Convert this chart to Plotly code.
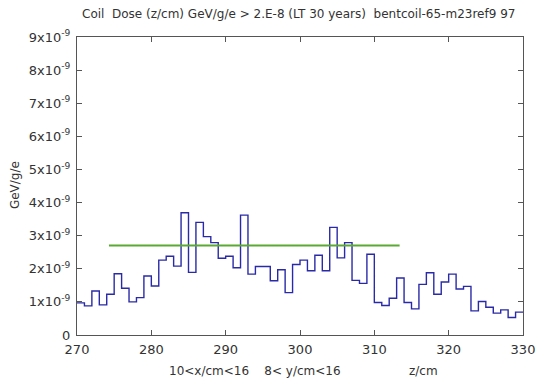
import plotly.graph_objects as go

# Dose per 1 cm z-bin, in units of 1e-9 GeV/g/e
z_edges = list(range(270, 331))
dose = [0.97, 0.88, 1.33, 0.91, 1.23, 1.85, 1.41, 1.00, 1.13, 1.78,
        1.48, 2.26, 2.38, 2.08, 3.69, 1.89, 3.40, 2.97, 2.79, 2.32,
        2.38, 2.03, 3.62, 1.84, 2.07, 2.07, 1.64, 1.97, 1.28, 2.13,
        2.26, 1.94, 2.41, 1.94, 3.25, 2.33, 2.79, 1.65, 1.56, 2.44,
        0.98, 0.89, 1.11, 1.72, 0.98, 0.79, 1.53, 1.88, 1.23, 1.60,
        1.84, 1.39, 1.47, 0.73, 1.01, 0.84, 0.66, 0.76, 0.53, 0.69]

# Average level and the z range it covers
avg_z = [274.3, 313.4]
avg_level = 2.70

y_tick_vals = [0, 1, 2, 3, 4, 5, 6, 7, 8, 9]
y_tick_text = ["0"] + [f"{v}x10<sup>-9</sup>" for v in y_tick_vals[1:]]
x_tick_vals = [270, 280, 290, 300, 310, 320, 330]

scale = 1e-9
hist_y = [v * scale for v in dose] + [dose[-1] * scale]

W, H = 547, 378
plot_l, plot_r, plot_t, plot_b = 77, 531, 37, 335


def to_paper(px, py):
    return (px - plot_l) / (plot_r - plot_l), (plot_b - py) / (plot_b - plot_t)


fig = go.Figure()
fig.add_trace(go.Scatter(
    x=z_edges, y=hist_y, mode="lines", line_shape="hv",
    line=dict(color="#2a2aa8", width=1.4), showlegend=False,
))
fig.add_trace(go.Scatter(
    x=avg_z, y=[avg_level * scale] * 2, mode="lines",
    line=dict(color="#5aaa32", width=2), showlegend=False,
))

font = dict(family="DejaVu Sans", size=12, color="#333333")
tick_font = dict(family="DejaVu Sans", size=13, color="#333333")
axis_common = dict(
    showgrid=False, zeroline=False, showline=True, mirror="allticks",
    linecolor="#555555", linewidth=1, ticks="inside", ticklen=5,
    tickcolor="#555555", tickfont=tick_font,
)
fig.update_xaxes(range=[270, 330], tickvals=x_tick_vals, ticklabelstandoff=2,
                 **axis_common)
fig.update_yaxes(range=[0, 9 * scale], tickvals=[v * scale for v in y_tick_vals],
                 ticktext=y_tick_text, ticklabelstandoff=3, **axis_common)

labels = [
    ("Coil  Dose (z/cm) GeV/g/e > 2.E-8 (LT 30 years)  bentcoil-65-m23ref9 97", 302, 14, 0),
    ("10&lt;x/cm&lt;16    8&lt; y/cm&lt;16", 258, 371, 0),
    ("z/cm", 430, 371, 0),
    ("GeV/g/e", 14, 185, -90),
]
annotations = []
for text, px, py, angle in labels:
    ax, ay = to_paper(px, py)
    annotations.append(dict(
        text=text, x=ax, y=ay, xref="paper", yref="paper", showarrow=False,
        xanchor="center", yanchor="middle", textangle=angle, font=font,
    ))

fig.update_layout(
    width=W, height=H,
    margin=dict(l=plot_l, r=W - plot_r, t=plot_t, b=H - plot_b),
    paper_bgcolor="white", plot_bgcolor="white",
    font=font,
    annotations=annotations,
)

fig.write_html("out.html")
